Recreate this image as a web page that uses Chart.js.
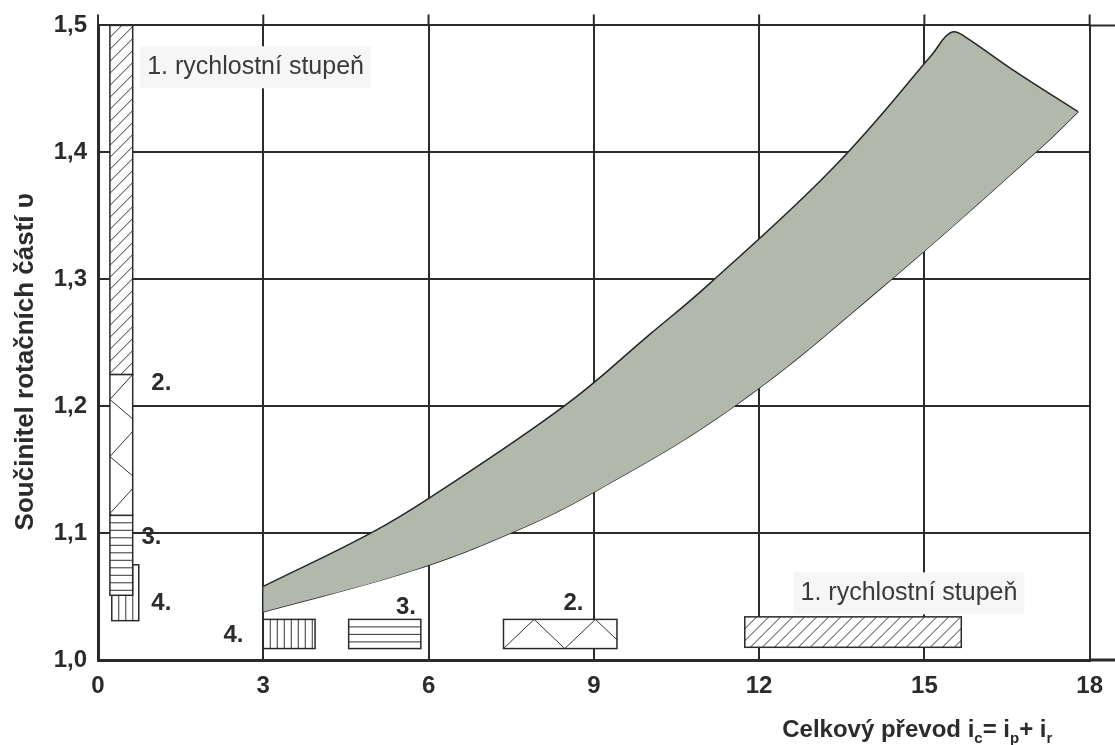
<!DOCTYPE html>
<html>
<head>
<meta charset="utf-8">
<script src="https://cdn.jsdelivr.net/npm/chart.js@4.4.0/dist/chart.umd.min.js"></script>
<style>
  html, body { margin: 0; padding: 0; background: #fff; }
  #obal { width: 1115px; height: 745px; position: relative; }
</style>
</head>
<body>
<div id="obal"><canvas id="graf"></canvas></div>
<script>
// ============================================
// DATA
// ============================================

// horní hranice pásma (celkový převod -> součinitel)
const horniX = [3, 4.95, 6.06, 8.49, 10.0, 11.06, 13.35, 15.14, 15.38, 15.54, 15.74, 16.64, 17.79];
const horniY = [1.058, 1.1, 1.129, 1.201, 1.256, 1.295, 1.388, 1.477, 1.491, 1.495, 1.491, 1.464, 1.432];

// dolní hranice pásma
const dolniX = [3, 5.67, 7.54, 9.03, 11.58, 14.24, 17.12, 17.79];
const dolniY = [1.038, 1.07, 1.101, 1.133, 1.201, 1.294, 1.404, 1.432];

// rychlostní stupně: 1., 2., 3., 4.
const stupne = ['1.', '2.', '3.', '4.'];
const vzory = ['diag', 'zigzag', 'hlines', 'vlines'];

// svislé obdélníky u osy y (rozsah součinitele)
const svisleX = [[0.216, 0.63], [0.216, 0.63], [0.216, 0.63], [0.25, 0.74]];
const svisleY = [[1.225, 1.5], [1.114, 1.225], [1.051, 1.114], [1.031, 1.075]];

// vodorovné obdélníky u osy x (rozsah převodu)
const vodorovneX = [[11.74, 15.67], [7.36, 9.42], [4.55, 5.86], [3.0, 3.94]];
const vodorovneY = [[1.01, 1.034], [1.009, 1.032], [1.009, 1.032], [1.009, 1.032]];

// popisky
const popisky = ['1. rychlostní stupeň', '2.', '3.', '4.', '1. rychlostní stupeň', '2.', '3.', '4.'];
const popiskyX = [2.86, 1.15, 0.97, 1.15, 14.72, 8.63, 5.59, 2.46];
const popiskyY = [1.467, 1.218, 1.097, 1.045, 1.0525, 1.045, 1.0415, 1.0196];

const xTicks = [0, 3, 6, 9, 12, 15, 18];

const PISMO = '"Liberation Sans", Arial, sans-serif';
const TMAVA = '#2b2b2b';
const PASMO = '#b3b8ad';

// ============================================
// KRESLENÍ
// ============================================

function kresliObdelnik(ctx, xs, ys, rx, ry, vzor) {
    const L = xs.getPixelForValue(rx[0]), R = xs.getPixelForValue(rx[1]);
    const T = ys.getPixelForValue(ry[1]), B = ys.getPixelForValue(ry[0]);
    const w = R - L, h = B - T;

    ctx.save();
    ctx.fillStyle = '#fff';
    ctx.fillRect(L, T, w, h);
    ctx.beginPath();
    ctx.rect(L, T, w, h);
    ctx.clip();
    ctx.strokeStyle = '#333';
    ctx.lineWidth = 1;
    ctx.beginPath();
    if (vzor === 'diag') {
        for (let s = -h; s < w + h; s += 12) {
            ctx.moveTo(L + s, B);
            ctx.lineTo(L + s + h, T);
        }
    } else if (vzor === 'hlines') {
        for (let y = T + 7.5; y < B - 2; y += 7.5) {
            ctx.moveTo(L, y);
            ctx.lineTo(R, y);
        }
    } else if (vzor === 'vlines') {
        for (let x = L + 7; x < R - 2; x += 7) {
            ctx.moveTo(x, T);
            ctx.lineTo(x, B);
        }
    } else if (vzor === 'zigzag') {
        if (w > h) {
            const krok = h * 1.05;
            ctx.moveTo(L, B);
            let nahoru = true;
            for (let x = L + krok; x < R + krok; x += krok) {
                ctx.lineTo(x, nahoru ? T : B);
                nahoru = !nahoru;
            }
        } else {
            const a = w * 1.1, b = w * 0.85, perioda = w * 2.5;
            for (let y = T; y < B; y += perioda) {
                ctx.moveTo(R, y);
                ctx.lineTo(L, y + a);
                ctx.lineTo(R, y + a + b);
            }
        }
    }
    ctx.stroke();
    ctx.restore();

    ctx.save();
    ctx.strokeStyle = TMAVA;
    ctx.lineWidth = 1.5;
    ctx.strokeRect(L, T, w, h);
    ctx.restore();
}

// přesahy mřížky nad grafem a vpravo
const presahy = {
    id: 'presahy',
    beforeDatasetsDraw(chart) {
        const ctx = chart.ctx, xs = chart.scales.x, ys = chart.scales.y;
        const { top, right } = chart.chartArea;
        ctx.save();
        ctx.strokeStyle = TMAVA;
        ctx.lineWidth = 2;
        ctx.beginPath();
        xTicks.forEach(v => {
            const px = xs.getPixelForValue(v);
            ctx.moveTo(px, top - 11);
            ctx.lineTo(px, top);
        });
        ctx.moveTo(right, ys.getPixelForValue(1.5));
        ctx.lineTo(chart.width, ys.getPixelForValue(1.5));
        ctx.stroke();
        ctx.lineWidth = 3;
        ctx.beginPath();
        ctx.moveTo(right, ys.getPixelForValue(1.0));
        ctx.lineTo(chart.width, ys.getPixelForValue(1.0));
        ctx.stroke();
        ctx.restore();
    }
};

// obdélníky stupňů, popisky a názvy os
const stupnePlugin = {
    id: 'stupne',
    afterDatasetsDraw(chart) {
        const ctx = chart.ctx, xs = chart.scales.x, ys = chart.scales.y;

        for (let i = stupne.length - 1; i >= 0; i--) {
            kresliObdelnik(ctx, xs, ys, svisleX[i], svisleY[i], vzory[i]);
            kresliObdelnik(ctx, xs, ys, vodorovneX[i], vodorovneY[i], vzory[i]);
        }

        ctx.save();
        ctx.textAlign = 'center';
        ctx.textBaseline = 'middle';
        popisky.forEach((t, i) => {
            const px = xs.getPixelForValue(popiskyX[i]);
            const py = ys.getPixelForValue(popiskyY[i]);
            if (t.length > 3) {
                ctx.font = '25px ' + PISMO;
                const sirka = ctx.measureText(t).width;
                ctx.fillStyle = '#f6f6f6';
                ctx.fillRect(px - sirka / 2 - 7, py - 21, sirka + 14, 42);
                ctx.fillStyle = '#3a3a3a';
            } else {
                ctx.font = 'bold 24px ' + PISMO;
                ctx.fillStyle = TMAVA;
            }
            ctx.fillText(t, px, py);
        });
        ctx.restore();

        // název osy x s indexy
        ctx.save();
        ctx.fillStyle = TMAVA;
        ctx.textBaseline = 'alphabetic';
        ctx.textAlign = 'left';
        let x = xs.getPixelForValue(12.42);
        const y = chart.chartArea.bottom + 77;
        const casti = [['Celkový převod i', 0], ['c', 1], ['= i', 0], ['p', 1], ['+ i', 0], ['r', 1]];
        casti.forEach(([t, sub]) => {
            ctx.font = sub ? 'bold 15px ' + PISMO : 'bold 24px ' + PISMO;
            ctx.fillText(t, x, sub ? y + 6 : y);
            x += ctx.measureText(t).width;
        });
        ctx.restore();

        // název osy y
        ctx.save();
        ctx.fillStyle = TMAVA;
        ctx.font = 'bold 26px ' + PISMO;
        ctx.textAlign = 'center';
        ctx.textBaseline = 'alphabetic';
        ctx.translate(33, ys.getPixelForValue(1.235));
        ctx.rotate(-Math.PI / 2);
        ctx.fillText('Součinitel rotačních částí υ', 0, 0);
        ctx.restore();
    }
};

const body = (xa, ya) => xa.map((x, i) => ({ x: x, y: ya[i] }));

new Chart(document.getElementById('graf'), {
    type: 'line',
    data: {
        datasets: [
            {
                data: body(horniX, horniY),
                borderColor: '#262626',
                borderWidth: 1.5,
                backgroundColor: PASMO,
                fill: '+1',
                tension: 0.4,
                pointRadius: 0
            },
            {
                data: body(dolniX, dolniY),
                borderColor: '#262626',
                borderWidth: 1.5,
                backgroundColor: PASMO,
                fill: false,
                tension: 0.4,
                pointRadius: 0
            }
        ]
    },
    options: {
        responsive: true,
        maintainAspectRatio: false,
        animation: false,
        layout: { padding: { left: 0, top: 22, right: 16, bottom: 0 } },
        plugins: {
            legend: { display: false },
            tooltip: { enabled: false }
        },
        scales: {
            x: {
                type: 'linear',
                min: 0,
                max: 18,
                afterFit(s) { s.height = 85; },
                afterBuildTicks(s) { s.ticks = xTicks.map(v => ({ value: v })); },
                grid: { color: TMAVA, lineWidth: 2, drawTicks: false },
                border: { color: TMAVA, width: 3 },
                ticks: {
                    padding: 12,
                    color: TMAVA,
                    font: { family: PISMO, size: 24, weight: 'bold' }
                }
            },
            y: {
                min: 1.0,
                max: 1.5,
                afterFit(s) { s.width = 98; },
                grid: { color: TMAVA, lineWidth: 2, drawTicks: false },
                border: { color: TMAVA, width: 3 },
                ticks: {
                    stepSize: 0.1,
                    padding: 11,
                    color: TMAVA,
                    font: { family: PISMO, size: 24, weight: 'bold' },
                    callback: v => v.toFixed(1).replace('.', ',')
                }
            }
        }
    },
    plugins: [presahy, stupnePlugin]
});
</script>
</body>
</html>
